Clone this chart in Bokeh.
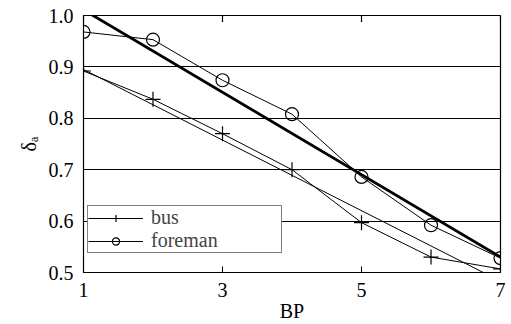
import math
from bokeh.plotting import figure
from bokeh.models import Legend, LegendItem, FixedTicker, Range1d, PrintfTickFormatter
from bokeh.embed import file_html
from bokeh.resources import INLINE

bp = [1, 2, 3, 4, 5, 6, 7]
bus = [0.892, 0.837, 0.770, 0.700, 0.597, 0.530, 0.507]
foreman = [0.968, 0.953, 0.874, 0.808, 0.686, 0.592, 0.528]
fit_x = [1, 7]
bus_fit = [0.895, 0.483]
foreman_fit = [1.011, 0.530]
x_ticks = [1, 3, 5, 7]
y_ticks = [0.5, 0.6, 0.7, 0.8, 0.9, 1.0]

FONT = "Liberation Serif"

p = figure(width=511, height=324, output_backend="svg", toolbar_location=None,
           x_range=Range1d(1, 7), y_range=Range1d(0.5, 1.0),
           min_border_left=83, min_border_right=11, min_border_top=15, min_border_bottom=50,
           background_fill_color="white", border_fill_color="white")
p.outline_line_color = "black"
p.outline_line_width = 1.2
p.xgrid.visible = False
p.ygrid.ticker = FixedTicker(ticks=y_ticks)
p.ygrid.grid_line_color = "black"
p.ygrid.grid_line_width = 1.2

p.xaxis.ticker = FixedTicker(ticks=x_ticks)
p.yaxis.ticker = FixedTicker(ticks=y_ticks)
p.yaxis.formatter = PrintfTickFormatter(format="%.1f")
for ax in (p.xaxis[0], p.yaxis[0]):
    ax.major_label_text_font = FONT
    ax.major_label_text_font_size = "20px"
    ax.major_label_text_color = "black"
    ax.axis_label_text_font = FONT
    ax.axis_label_text_font_size = "20px"
    ax.axis_label_text_font_style = "normal"
    ax.axis_label_text_color = "black"
    ax.axis_line_color = "black"
    ax.major_tick_line_color = "black"
    ax.major_tick_in = 6
    ax.major_tick_out = 0
    ax.minor_tick_line_color = None
p.xaxis.axis_label = "BP"
p.xaxis.major_label_standoff = 10
p.xaxis.axis_label_standoff = 0
p.yaxis.axis_label = "δₐ"
p.yaxis.major_label_standoff = 10
p.yaxis.axis_label_standoff = 6

# inward tick marks along the top edge of the frame
p.scatter(x_ticks, [y_ticks[-1]] * len(x_ticks), marker="dash", angle=math.pi / 2,
          size=13, line_color="black", line_width=1.2)

# fit lines
p.line(fit_x, foreman_fit, line_color="black", line_width=2.8)
p.line(fit_x, bus_fit, line_color="black", line_width=1)

# data
l1 = p.line(bp, bus, line_color="black", line_width=1)
m1 = p.scatter(bp, bus, marker="cross", size=15, line_color="black", line_width=1.2)
l2 = p.line(bp, foreman, line_color="black", line_width=1)
m2 = p.scatter(bp, foreman, marker="circle", size=13, line_color="black",
               fill_alpha=0, line_width=1.2)

legend = Legend(items=[LegendItem(label="bus", renderers=[l1, m1]),
                       LegendItem(label="foreman", renderers=[l2, m2])],
                location=(4, 19), orientation="vertical",
                label_text_font=FONT, label_text_font_size="20px",
                glyph_width=55, glyph_height=18, label_height=18, label_width=130,
                label_standoff=8, padding=0, spacing=0, margin=0,
                border_line_color="black", border_line_width=1.2,
                background_fill_color="white", background_fill_alpha=1)
p.add_layout(legend, "center")

open("out.html", "w").write(file_html(p, INLINE))
